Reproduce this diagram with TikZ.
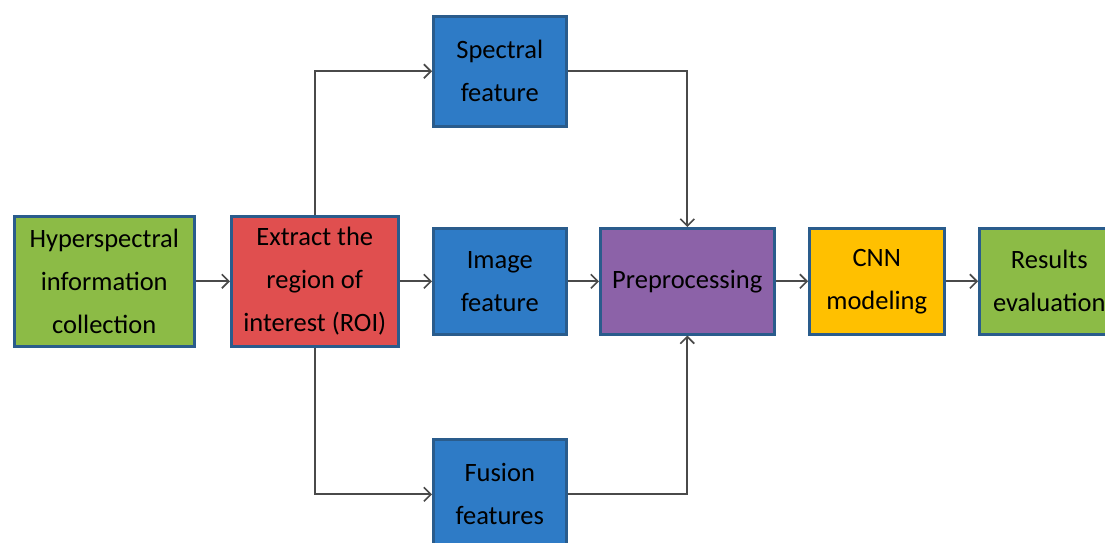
\documentclass[tikz,border=0pt]{standalone}
\usepackage{fontspec}
\setmainfont{Carlito}
\usetikzlibrary{arrows.meta}
\definecolor{bgreen}{HTML}{8CBB46}
\definecolor{bred}{HTML}{E04F4F}
\definecolor{bblue}{HTML}{2E7BC6}
\definecolor{bpurple}{HTML}{8C62A8}
\definecolor{borange}{HTML}{FFC000}
\definecolor{bedge}{HTML}{2A5C8C}
\definecolor{lgray}{HTML}{4A4A4A}
\tikzset{
  box/.style={draw=bedge, line width=2.5pt, anchor=north west, inner sep=0pt,
    align=center, font=\fontsize{26.5}{43}\selectfont, text=black},
  conn/.style={draw=lgray, line width=1.8pt, -{Straight Barb[length=7pt,width=14pt,line width=1.6pt]}},
}
\begin{document}
\begin{tikzpicture}[x=1pt,y=-1pt]
\clip (0,0) rectangle (1105,542);
\fill[white] (0,0) rectangle (1105,542);
\node[box, fill=bgreen, minimum width=180pt, minimum height=130pt] (hyp) at (13,215) {Hyperspectral\\information\\collection};
\node[box, fill=bred, minimum width=167pt, minimum height=130pt] (roi) at (230,215) {Extract the\\region of\\interest (ROI)};
\node[box, fill=bblue, minimum width=133pt, minimum height=110pt] (spec) at (432,15) {Spectral\\feature};
\node[box, fill=bblue, minimum width=133pt, minimum height=106pt] (img) at (432,227) {Image\\feature};
\node[box, fill=bblue, minimum width=133pt, minimum height=110pt] (fus) at (432,438) {Fusion\\features};
\node[box, fill=bpurple, minimum width=174pt, minimum height=106pt] (pre) at (599,227) {Preprocessing};
\node[box, fill=borange, minimum width=135pt, minimum height=106pt] (cnn) at (808,227) {CNN\\modeling};
\node[box, fill=bgreen, minimum width=140pt, minimum height=106pt] (res) at (978,227) {Results\\evaluation};
\draw[conn] (hyp.east) -- (roi.west);
\draw[conn] (roi.east) -- (img.west);
\draw[conn] (img.east) -- (pre.west);
\draw[conn] (pre.east) -- (cnn.west);
\draw[conn] (cnn.east) -- (res.west);
\draw[conn] (roi.north) |- (spec.west);
\draw[conn] (roi.south) |- (fus.west);
\draw[conn] (spec.east) -| (pre.north);
\draw[conn] (fus.east) -| (pre.south);
\end{tikzpicture}
\end{document}
